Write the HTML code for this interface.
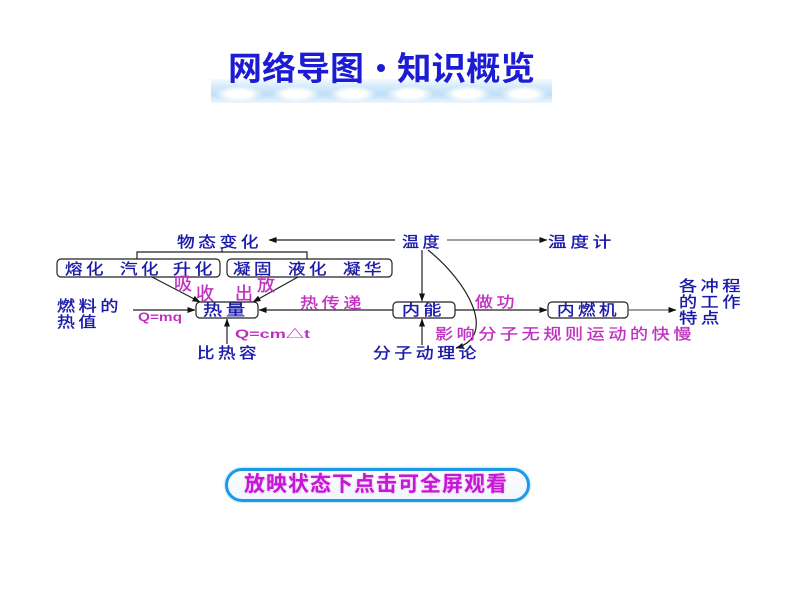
<!DOCTYPE html>
<html><head><meta charset="utf-8">
<style>
html,body{margin:0;padding:0;background:#fff;}
body{width:800px;height:600px;position:relative;overflow:hidden;}
.band{position:absolute;left:211px;top:79px;width:341px;height:24px;
background:
radial-gradient(ellipse 24px 8px at 28px 15px,#fff 50%,rgba(255,255,255,0) 100%),
radial-gradient(ellipse 24px 8px at 85px 15px,#fff 50%,rgba(255,255,255,0) 100%),
radial-gradient(ellipse 24px 8px at 142px 15px,#fff 50%,rgba(255,255,255,0) 100%),
radial-gradient(ellipse 24px 8px at 199px 15px,#fff 50%,rgba(255,255,255,0) 100%),
radial-gradient(ellipse 24px 8px at 256px 15px,#fff 50%,rgba(255,255,255,0) 100%),
radial-gradient(ellipse 24px 8px at 313px 15px,#fff 50%,rgba(255,255,255,0) 100%),
linear-gradient(#f4faff 0%,#d2e9fb 35%,#c0dff8 65%,#eef6fd 100%);}
.btn{position:absolute;left:225px;top:468px;width:299px;height:28px;border:3px solid #1c9ae6;border-radius:17px;background:linear-gradient(#ffffff,#eef7fe);box-shadow:0 0 2px #6cc4f4;}
.btntxt{position:absolute;left:244px;top:470px;font-family:"Liberation Sans","Noto Sans CJK SC",sans-serif;font-weight:bold;font-size:21px;color:#c418d4;letter-spacing:1px;white-space:nowrap;line-height:30px;text-shadow:0 0 2px #f0a0f4;}
svg{position:absolute;left:0;top:0;}
</style></head><body>
<div class="band"></div>
<div class="btn"></div>
<div class="btntxt">放映状态下点击可全屏观看</div>

<svg width="800" height="600" viewBox="0 0 800 600" xmlns="http://www.w3.org/2000/svg">
<defs>
<marker id="a" markerWidth="8" markerHeight="6" refX="7.5" refY="3" orient="auto" markerUnits="userSpaceOnUse">
<path d="M0,0 L8,3 L0,6 z" fill="#111"/>
</marker>
</defs>
<!-- title -->
<g font-family="'Liberation Sans','Noto Sans CJK SC',sans-serif" font-size="33" font-weight="bold" fill="#1c1cd4">
<text x="228" y="80" textLength="136" lengthAdjust="spacingAndGlyphs">网络导图</text>
<text x="397" y="80" textLength="138" lengthAdjust="spacingAndGlyphs">知识概览</text>
</g>
<circle cx="381" cy="68" r="4" fill="#1c1cd4"/>

<g stroke="#222" stroke-width="1.2" fill="none">
<line x1="395" y1="240" x2="269" y2="240" marker-end="url(#a)"/>
<line x1="447" y1="240" x2="547" y2="240" marker-end="url(#a)" stroke="#666"/>
<polyline points="137,259 137,252 307,252 307,259"/>
<line x1="222" y1="248" x2="222" y2="252"/>
<rect x="57" y="259" width="163" height="18" rx="4"/>
<rect x="227" y="259" width="165" height="18" rx="4"/>
<rect x="196" y="302" width="62" height="16" rx="4"/>
<rect x="393" y="302" width="62" height="16" rx="4"/>
<rect x="548" y="302" width="80" height="16" rx="4"/>
<line x1="152" y1="277" x2="200" y2="302" marker-end="url(#a)"/>
<line x1="298" y1="277" x2="253" y2="302" marker-end="url(#a)"/>
<line x1="133" y1="310" x2="195" y2="310" marker-end="url(#a)"/>
<line x1="393" y1="310" x2="259" y2="310" marker-end="url(#a)"/>
<line x1="227" y1="344" x2="227" y2="319" marker-end="url(#a)"/>
<line x1="422" y1="250" x2="422" y2="301" marker-end="url(#a)"/>
<line x1="422" y1="345" x2="422" y2="319" marker-end="url(#a)"/>
<line x1="455" y1="310" x2="547" y2="310" marker-end="url(#a)"/>
<line x1="628" y1="310" x2="676" y2="310" marker-end="url(#a)" stroke="#666"/>
<path d="M428,250 C468,282 498,336 456,348" marker-end="url(#a)"/>
</g>

<g font-family="'Liberation Sans','Noto Sans CJK SC',sans-serif" font-size="15" letter-spacing="3" fill="#1a1aa8" stroke="#1a1aa8" stroke-width="0.35">
<text x="177" y="247" textLength="85" lengthAdjust="spacingAndGlyphs">物态变化</text>
<text x="402" y="247" textLength="41" lengthAdjust="spacingAndGlyphs">温度</text>
<text x="548" y="247" textLength="67" lengthAdjust="spacingAndGlyphs">温度计</text>
<text x="65" y="274" textLength="42" lengthAdjust="spacingAndGlyphs">熔化</text>
<text x="120" y="274" textLength="42" lengthAdjust="spacingAndGlyphs">汽化</text>
<text x="173" y="274" textLength="43" lengthAdjust="spacingAndGlyphs">升化</text>
<text x="233" y="274" textLength="42" lengthAdjust="spacingAndGlyphs">凝固</text>
<text x="288" y="274" textLength="42" lengthAdjust="spacingAndGlyphs">液化</text>
<text x="343" y="274" textLength="42" lengthAdjust="spacingAndGlyphs">凝华</text>
<text x="203" y="315" textLength="46" lengthAdjust="spacingAndGlyphs">热量</text>
<text x="57" y="311" textLength="65" lengthAdjust="spacingAndGlyphs">燃料的</text>
<text x="57" y="327" textLength="43" lengthAdjust="spacingAndGlyphs">热值</text>
<text x="197" y="358" textLength="63" lengthAdjust="spacingAndGlyphs">比热容</text>
<text x="402" y="315" textLength="43" lengthAdjust="spacingAndGlyphs">内能</text>
<text x="557" y="315" textLength="63" lengthAdjust="spacingAndGlyphs">内燃机</text>
<text x="373" y="358" textLength="107" lengthAdjust="spacingAndGlyphs">分子动理论</text>
<text x="679" y="291" textLength="65" lengthAdjust="spacingAndGlyphs">各冲程</text>
<text x="679" y="307" textLength="65" lengthAdjust="spacingAndGlyphs">的工作</text>
<text x="679" y="323" textLength="44" lengthAdjust="spacingAndGlyphs">特点</text>
</g>

<g font-family="'Liberation Sans','Noto Sans CJK SC',sans-serif" font-size="18" fill="#c030c0" stroke="#c030c0" stroke-width="0.3">
<text x="174" y="290">吸</text>
<text x="196" y="300">收</text>
<text x="235" y="300">出</text>
<text x="257" y="291">放</text>
</g>
<g font-family="'Liberation Sans','Noto Sans CJK SC',sans-serif" font-size="15" letter-spacing="3" fill="#c030c0" stroke="#c030c0" stroke-width="0.3">
<text x="300" y="308" textLength="65" lengthAdjust="spacingAndGlyphs">热传递</text>
<text x="475" y="307" textLength="43" lengthAdjust="spacingAndGlyphs">做功</text>
<text x="435" y="339" textLength="260" lengthAdjust="spacingAndGlyphs">影响分子无规则运动的快慢</text>
</g>
<g font-family="'Liberation Sans','Noto Sans CJK SC',sans-serif" font-size="12" font-weight="bold" fill="#c030c0">
<text x="138" y="321" textLength="44" lengthAdjust="spacingAndGlyphs">Q=mq</text>
<text x="235" y="338" textLength="75" lengthAdjust="spacingAndGlyphs">Q=cm△t</text>
</g>
</svg>
</body></html>
